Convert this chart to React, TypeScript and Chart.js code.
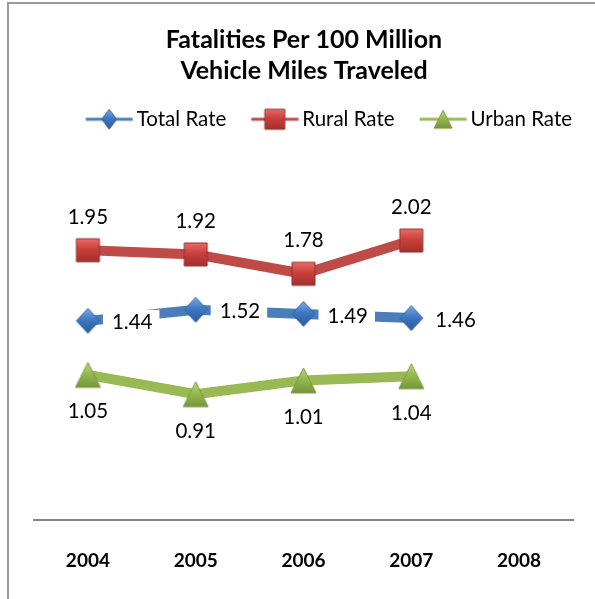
import React, { useEffect, useRef } from "react";
import { Chart, registerables } from "chart.js";

Chart.register(...registerables);

const categories = ["2004", "2005", "2006", "2007", "2008"];
const seriesNames = ["Total Rate", "Rural Rate", "Urban Rate"];
const totalRate = [1.44, 1.52, 1.49, 1.46, null];
const ruralRate = [1.95, 1.92, 1.78, 2.02, null];
const urbanRate = [1.05, 0.91, 1.01, 1.04, null];
const titleLines = ["Fatalities Per 100 Million", "Vehicle Miles Traveled"];

const FONT = "Lato, 'Liberation Sans', sans-serif";
const LABEL_SIZE = 20.5;

// legend geometry
const LEG_LINE = 47; // legend line length
const LEG_A = 23; // offset of line start from legend box start
const LEG_PAD = 2; // chart.js legend padding
const LEG_BOX = LEG_A + LEG_LINE + 4 - LABEL_SIZE / 2; // pointStyleWidth

type Kind = "diamond" | "square" | "triangle";

function shapePath(ctx: CanvasRenderingContext2D, kind: Kind, cx: number, cy: number, hw: number, hh: number) {
  ctx.beginPath();
  if (kind === "diamond") {
    ctx.moveTo(cx, cy - hh);
    ctx.lineTo(cx + hw, cy);
    ctx.lineTo(cx, cy + hh);
    ctx.lineTo(cx - hw, cy);
  } else if (kind === "square") {
    ctx.rect(cx - hw, cy - hh, hw * 2, hh * 2);
  } else {
    ctx.moveTo(cx, cy - hh);
    ctx.lineTo(cx + hw, cy + hh);
    ctx.lineTo(cx - hw, cy + hh);
  }
  ctx.closePath();
}

function makeMarker(
  kind: Kind,
  hw: number,
  hh: number,
  light: string,
  mid: string,
  dark: string,
  stroke: string,
  line?: { color: string; width: number }
) {
  let w = Math.ceil(hw * 2 + 4);
  let cx = w / 2;
  let lineStart = 0;
  if (line) {
    const c = LEG_BOX / 2;
    w = Math.ceil(2 * (LEG_A + LEG_LINE - c));
    const left = c - w / 2;
    lineStart = LEG_A - left;
    cx = lineStart + LEG_LINE / 2;
  }
  const h = Math.ceil(hh * 2 + 4);
  const cv = document.createElement("canvas");
  cv.width = w;
  cv.height = h;
  const ctx = cv.getContext("2d")!;
  const cy = h / 2;
  if (line) {
    ctx.strokeStyle = line.color;
    ctx.lineWidth = line.width;
    ctx.beginPath();
    ctx.moveTo(lineStart, cy);
    ctx.lineTo(lineStart + LEG_LINE, cy);
    ctx.stroke();
  }
  const g = ctx.createLinearGradient(cx, cy - hh, cx, cy + hh);
  g.addColorStop(0, light);
  g.addColorStop(0.45, mid);
  g.addColorStop(1, dark);
  shapePath(ctx, kind, cx, cy, hw, hh);
  ctx.fillStyle = g;
  ctx.fill();
  ctx.lineWidth = 1;
  ctx.strokeStyle = stroke;
  ctx.stroke();
  return cv;
}

const labelPlugin = {
  id: "valueLabels",
  afterDatasetsDraw(chart: any) {
    const ctx: CanvasRenderingContext2D = chart.ctx;
    const positions = ["right", "top", "bottom"];
    ctx.save();
    ctx.font = `${LABEL_SIZE}px ${FONT}`;
    ctx.textBaseline = "middle";
    chart.data.datasets.forEach((ds: any, di: number) => {
      const meta = chart.getDatasetMeta(di);
      meta.data.forEach((pt: any, i: number) => {
        const v = ds.data[i];
        if (v === null || v === undefined) return;
        const txt = v.toFixed(2);
        const tw = ctx.measureText(txt).width;
        let tx: number, ty: number;
        const pos = positions[di];
        if (pos === "right") {
          tx = pt.x + 24;
          ty = pt.y + 2;
        } else if (pos === "top") {
          tx = pt.x - tw / 2;
          ty = pt.y - 33;
        } else {
          tx = pt.x - tw / 2;
          ty = pt.y + 37;
        }
        ctx.fillStyle = "#ffffff";
        ctx.fillRect(tx - 9, ty - 13, tw + 16, 26);
        ctx.fillStyle = "#000000";
        ctx.textAlign = "left";
        ctx.fillText(txt, tx, ty);
      });
    });
    ctx.restore();
  },
};

const framePlugin = {
  id: "frame",
  beforeDraw(chart: any) {
    const ctx: CanvasRenderingContext2D = chart.ctx;
    ctx.save();
    ctx.fillStyle = "#ffffff";
    ctx.fillRect(0, 0, chart.width, chart.height);
    ctx.strokeStyle = "#9a9a9a";
    ctx.lineWidth = 2;
    ctx.beginPath();
    ctx.moveTo(8, chart.height);
    ctx.lineTo(8, 3);
    ctx.lineTo(chart.width, 3);
    ctx.stroke();
    ctx.restore();
  },
};

export default function App() {
  const ref = useRef<HTMLCanvasElement | null>(null);
  useEffect(() => {
    if (!ref.current) return;
    const blue = "#4A7EBB";
    const red = "#BE4B48";
    const green = "#98B954";
    const mDiamond = makeMarker("diamond", 11.5, 12.5, "#7FAAE0", "#3F78C4", "#2B5A9A", "#3A63A0");
    const mSquare = makeMarker("square", 11.5, 11.5, "#E86C68", "#CC3F3B", "#A3302D", "#8E3532");
    const mTri = makeMarker("triangle", 12.5, 12.5, "#BBD684", "#97BA4E", "#76963A", "#7C9A45");
    const lDiamond = makeMarker("diamond", 7.5, 10, "#7FAAE0", "#3F78C4", "#2B5A9A", "#3A63A0", { color: blue, width: 3 });
    const lSquare = makeMarker("square", 10, 10, "#E86C68", "#CC3F3B", "#A3302D", "#8E3532", { color: red, width: 3 });
    const lTri = makeMarker("triangle", 9, 9, "#BBD684", "#97BA4E", "#76963A", "#7C9A45", { color: green, width: 3 });
    const legendImgs = [lDiamond, lSquare, lTri];

    const chart = new Chart(ref.current, {
      type: "line",
      data: {
        labels: categories,
        datasets: [
          { label: seriesNames[0], data: totalRate, borderColor: blue, backgroundColor: blue, borderWidth: 10, pointStyle: mDiamond as any, pointRadius: 12 },
          { label: seriesNames[1], data: ruralRate, borderColor: red, backgroundColor: red, borderWidth: 10, pointStyle: mSquare as any, pointRadius: 12 },
          { label: seriesNames[2], data: urbanRate, borderColor: green, backgroundColor: green, borderWidth: 10, pointStyle: mTri as any, pointRadius: 12 },
        ],
      },
      options: {
        animation: false,
        responsive: false,
        maintainAspectRatio: false,
        layout: { padding: { left: 34, right: 21, top: 0, bottom: -2 } },
        plugins: {
          tooltip: { enabled: false },
          title: {
            display: true,
            text: titleLines,
            color: "#000000",
            font: { family: FONT, size: 25, weight: "bold", lineHeight: "31px" },
            padding: { top: 24, bottom: 21 },
          },
          legend: {
            display: true,
            position: "top",
            align: "end",
            labels: {
              color: "#000000",
              font: { family: FONT, size: LABEL_SIZE },
              usePointStyle: true,
              pointStyleWidth: LEG_BOX,
              padding: LEG_PAD,
              generateLabels(chart: any) {
                const items = Chart.defaults.plugins.legend.labels.generateLabels(chart);
                items.forEach((it: any, i: number) => {
                  it.pointStyle = legendImgs[i];
                });
                return items;
              },
            },
          },
        },
        scales: {
          x: {
            offset: true,
            grid: { display: false, drawTicks: false },
            border: { display: true, color: "#868686", width: 2 },
            ticks: { color: "#000000", font: { family: FONT, size: 19, weight: "bold" }, padding: 29, maxRotation: 0 },
          },
          y: {
            display: false,
            min: 0,
            max: 2.75,
          },
        },
      },
      plugins: [framePlugin, labelPlugin],
    });
    return () => chart.destroy();
  }, []);
  return (
    <div style={{ position: "fixed", left: 0, top: 0, width: 595, height: 599 }}>
      <canvas ref={ref} width={595} height={599} style={{ display: "block", width: 595, height: 599 }} />
    </div>
  );
}
